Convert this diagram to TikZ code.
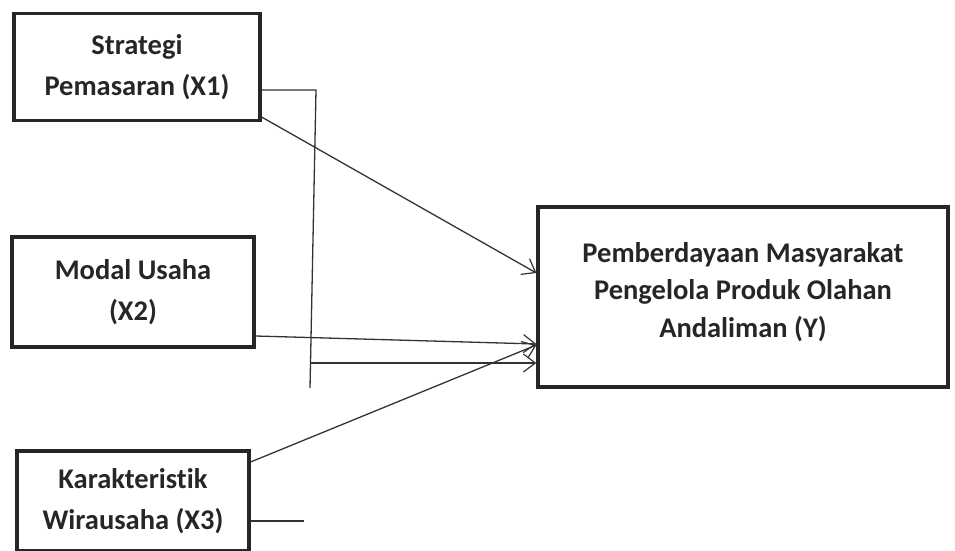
\documentclass[tikz,border=0pt]{standalone}
\usepackage{fontspec}
\setmainfont{Carlito}[Ligatures={NoCommon}]
\usetikzlibrary{arrows.meta}
\begin{document}
\begin{tikzpicture}[x=1pt,y=-1pt,
  box/.style={draw=black!85,line width=3.2pt,rectangle,inner sep=0pt,align=center,
    font=\fontsize{28.5}{41}\selectfont\bfseries,text=black!85},
  lbl/.style={inner sep=0pt,align=center,font=\fontsize{28.5}{37.5}\selectfont\bfseries,text=black!85},
  conn/.style={draw=black!80,line width=1.3pt},
  arr/.style={conn,-{Straight Barb[length=12pt,width=18pt,line width=1.2pt]}}]
\useasboundingbox (0,0) rectangle (955,551);
\node[box,minimum width=246pt,minimum height=107pt] (x1) at (137,67) {Strategi\\Pemasaran (X1)};
\node[box,minimum width=242pt,minimum height=110pt] (x2) at (133,292) {Modal Usaha\\(X2)};
\node[box,minimum width=232pt,minimum height=100pt] (x3) at (133,501) {Karakteristik\\Wirausaha (X3)};
\node[box,minimum width=410pt,minimum height=180pt] (y) at (743,297) {};
\node[lbl] (ytext) at ([yshift=5pt]y.center) {Pemberdayaan Masyarakat\\Pengelola Produk Olahan\\Andaliman (Y)};
\coordinate (j1) at (316,90);
\coordinate (j2) at (310,388);
\coordinate (j3) at (310,363);
\coordinate (s3) at (304,521);
\draw[conn] (x1.east |- j1) -- (j1) -- (j2);
\draw[arr] (x1.east |- 0,117) -- (y.west |- 0,273);
\draw[arr] (x2.east |- 0,336) -- (y.west |- 0,344);
\draw[arr] (x3.east |- 0,462) -- (y.west |- 0,345);
\draw[arr] (j3) -- (y.west |- j3);
\draw[conn] (x3.east |- s3) -- (s3);
\end{tikzpicture}
\end{document}
